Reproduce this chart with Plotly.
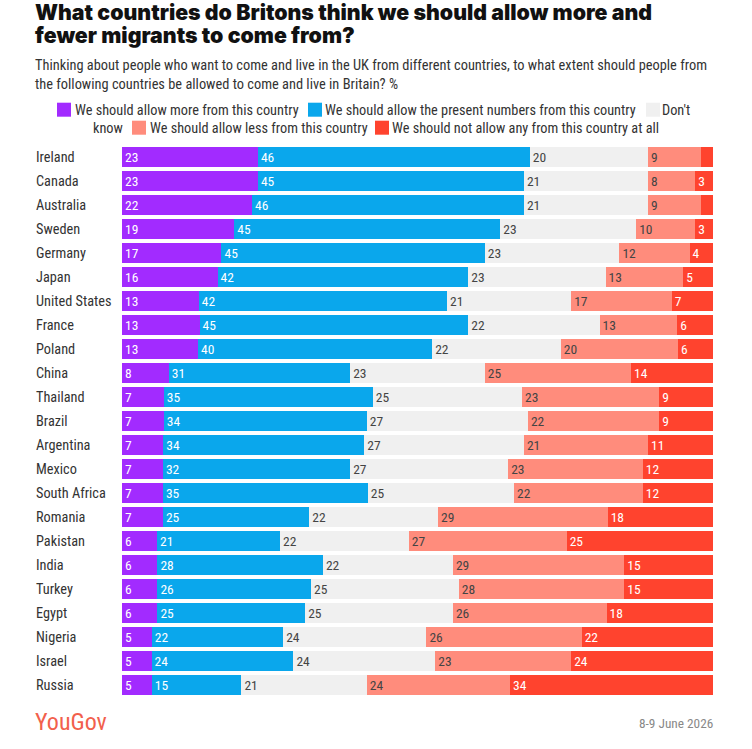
import plotly.graph_objects as go

countries = ["Ireland", "Canada", "Australia", "Sweden", "Germany", "Japan", "United States",
             "France", "Poland", "China", "Thailand", "Brazil", "Argentina", "Mexico",
             "South Africa", "Romania", "Pakistan", "India", "Turkey", "Egypt", "Nigeria",
             "Israel", "Russia"]
more = [23, 23, 22, 19, 17, 16, 13, 13, 13, 8, 7, 7, 7, 7, 7, 7, 6, 6, 6, 6, 5, 5, 5]
present = [46, 45, 46, 45, 45, 42, 42, 45, 40, 31, 35, 34, 34, 32, 35, 25, 21, 28, 26, 25, 22, 24, 15]
dont_know = [20, 21, 21, 23, 23, 23, 21, 22, 22, 23, 25, 27, 27, 27, 25, 22, 22, 22, 25, 25, 24, 24, 21]
less = [9, 8, 9, 10, 12, 13, 17, 13, 20, 25, 23, 22, 21, 23, 22, 29, 27, 29, 28, 26, 26, 23, 24]
none_at_all = [2, 3, 2, 3, 4, 5, 7, 6, 6, 14, 9, 9, 11, 12, 12, 18, 25, 15, 15, 18, 22, 24, 34]

series_names = ["We should allow more from this country",
                "We should allow the present numbers from this country",
                "Don't know",
                "We should allow less from this country",
                "We should not allow any from this country at all"]
series_values = [more, present, dont_know, less, none_at_all]
colors = ["#a22bff", "#0aa7ec", "#f0f0f0", "#ff8c7c", "#ff432e"]
text_colors = ["white", "white", "#444444", "#444444", "white"]

FONT = "Roboto Condensed, Roboto, sans-serif"
TITLE_FONT = "Inter, Roboto, sans-serif"
W, H = 752, 749
L, R, T, B = 122, 39, 145, 52
PW, PH = W - L - R, H - T - B


def px(xp):
    return (xp - L) / PW


def py(yp):
    return (H - B - yp) / PH


fig = go.Figure()
for name, vals, col, tcol in zip(series_names, series_values, colors, text_colors):
    fig.add_trace(go.Bar(
        y=countries, x=vals, name=name, orientation="h",
        marker=dict(color=col, line=dict(width=0)),
        text=[str(v) if v >= 3 else "" for v in vals],
        textposition="inside", insidetextanchor="start", textangle=0,
        textfont=dict(color=tcol, size=13.5, family=FONT),
        constraintext="none",
        showlegend=False,
        hoverinfo="x+y+name",
    ))

annotations = []
for c in countries:
    annotations.append(dict(x=px(34), y=c, xref="paper", yref="y", text=c,
                            xanchor="left", yanchor="middle", showarrow=False,
                            font=dict(size=14.3, color="#333333", family=FONT)))

# title & subtitle
annotations.append(dict(x=px(33), y=py(11.5), xref="paper", yref="paper", showarrow=False,
                        xanchor="left", yanchor="middle",
                        text="What countries do Britons think we should allow more and",
                        font=dict(size=21.3, color="#111111", family=TITLE_FONT, weight=900)))
annotations.append(dict(x=px(33), y=py(35), xref="paper", yref="paper", showarrow=False,
                        xanchor="left", yanchor="middle",
                        text="fewer migrants to come from?",
                        font=dict(size=21.3, color="#111111", family=TITLE_FONT, weight=900)))
annotations.append(dict(x=px(33), y=py(65), xref="paper", yref="paper", showarrow=False,
                        xanchor="left", yanchor="middle",
                        text="Thinking about people who want to come and live in the UK from different countries, to what extent should people from",
                        font=dict(size=14.4, color="#333333", family=FONT)))
annotations.append(dict(x=px(33), y=py(85), xref="paper", yref="paper", showarrow=False,
                        xanchor="left", yanchor="middle",
                        text="the following countries be allowed to come and live in Britain? %",
                        font=dict(size=14.4, color="#333333", family=FONT)))

# legend: (swatch left px, text left px, row centre px, label, colour index)
legend_items = [
    (57, 73, 109.7, series_names[0], 0),
    (308, 323, 109.7, series_names[1], 1),
    (646, 660, 109.7, "Don't", 2),
    (None, 91, 127.7, "know", None),
    (132, 148, 127.7, series_names[3], 3),
    (375, 390, 127.7, series_names[4], 4),
]
shapes = []
for sx, tx, cy, label, ci in legend_items:
    if sx is not None:
        shapes.append(dict(type="rect", xref="paper", yref="paper",
                           x0=px(sx), x1=px(sx + 14), y0=py(cy + 7), y1=py(cy - 7),
                           fillcolor=colors[ci], line=dict(width=0)))
    annotations.append(dict(x=px(tx), y=py(cy), xref="paper", yref="paper", showarrow=False,
                            xanchor="left", yanchor="middle", text=label,
                            font=dict(size=14.3, color="#333333", family=FONT)))

# footer
annotations.append(dict(x=px(33), y=py(722), xref="paper", yref="paper", showarrow=False,
                        xanchor="left", yanchor="middle", text="YouGov",
                        font=dict(size=24, color="#f2604c", family=FONT)))
annotations.append(dict(x=px(715), y=py(723), xref="paper", yref="paper", showarrow=False,
                        xanchor="right", yanchor="middle", text="8-9 June 2026",
                        font=dict(size=13.3, color="#888888", family=FONT)))

fig.update_layout(
    width=W, height=H,
    margin=dict(l=L, r=R, t=T, b=B, pad=0),
    barmode="stack", barnorm="percent", bargap=4 / 24,
    paper_bgcolor="white", plot_bgcolor="white",
    xaxis=dict(visible=False, range=[0, 100], fixedrange=True),
    yaxis=dict(visible=False, autorange="reversed", fixedrange=True),
    annotations=annotations,
    shapes=shapes,
    font=dict(family=FONT),
)

fig.write_html("out.html", post_script="document.body.style.margin='0';",
               config={"displayModeBar": False})
